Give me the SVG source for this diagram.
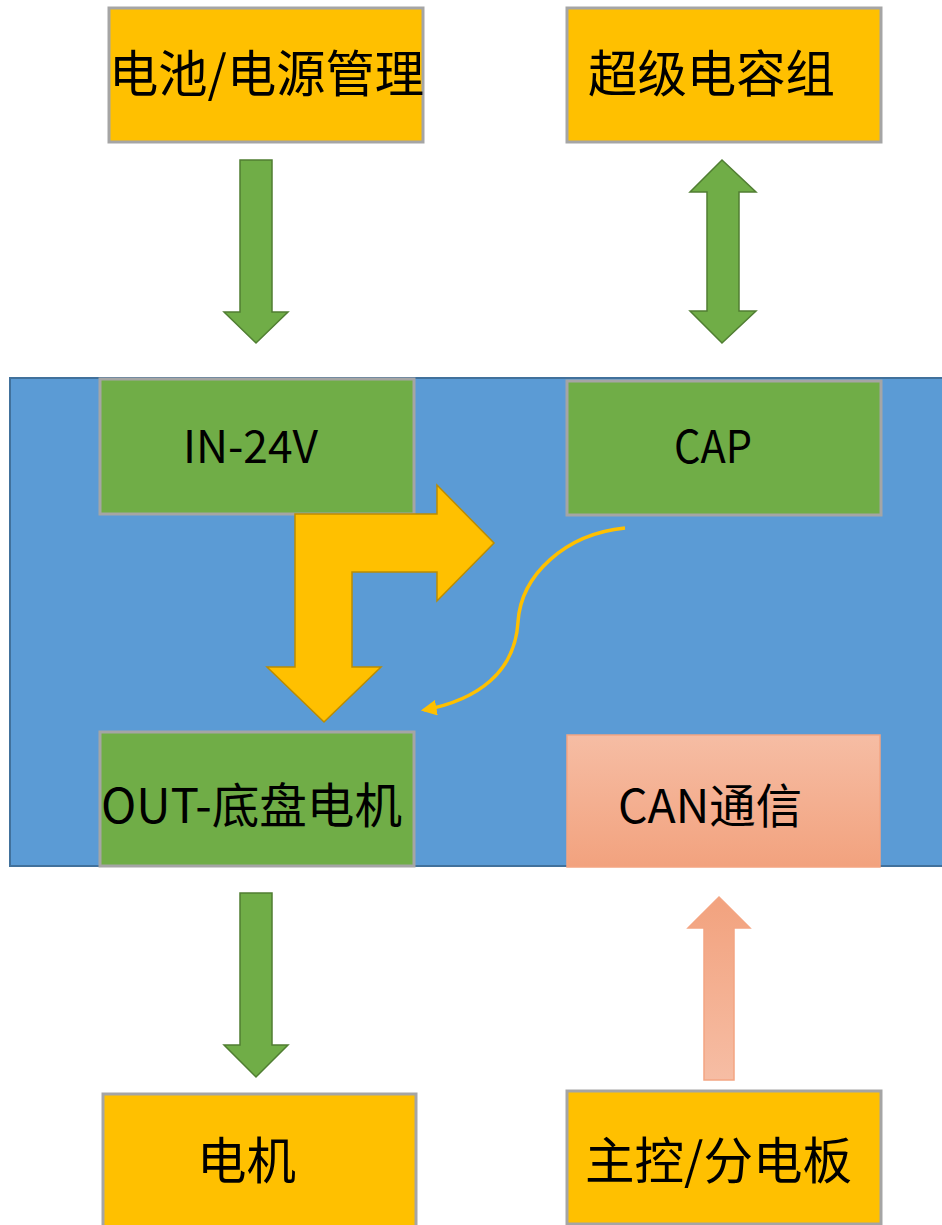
<svg xmlns="http://www.w3.org/2000/svg" width="942" height="1225" viewBox="0 0 942 1225">
<defs>
<linearGradient id="salmon" x1="0" y1="0" x2="0" y2="1">
<stop offset="0" stop-color="#F6BDA4"/>
<stop offset="1" stop-color="#F2A27E"/>
</linearGradient>
<linearGradient id="salmonUp" x1="0" y1="1" x2="0" y2="0">
<stop offset="0" stop-color="#F6BDA4"/>
<stop offset="1" stop-color="#F2A27E"/>
</linearGradient>
<marker id="curveHead" viewBox="0 0 10 10" refX="8" refY="5" markerWidth="4.5" markerHeight="4.5" orient="auto" markerUnits="strokeWidth">
<path d="M0,0 L10,5 L0,10 Z" fill="#FFC000"/>
</marker>
<style>
.t{font-family:"Noto Sans CJK SC","Noto Sans",sans-serif;fill:#000;}
.yel{fill:#FFC000;stroke:#A5A5A5;stroke-width:3;}
.grn{fill:#70AD47;stroke:#A5A5A5;stroke-width:3;}
.garr{fill:#70AD47;stroke:#507E32;stroke-width:1.5;}
.yarr{fill:#FFC000;stroke:#BC8C00;stroke-width:1.5;}
</style>
</defs>
<rect x="10" y="378" width="940" height="488" fill="#5B9BD5" stroke="#41719C" stroke-width="2"/>
<g id="battery">
<rect class="yel" x="109" y="8" width="314" height="134"/>
<text class="t" x="109" y="92" font-size="50" textLength="315" lengthAdjust="spacingAndGlyphs">电池/电源管理</text>
</g>
<g id="supercap">
<rect class="yel" x="567" y="8" width="314" height="134"/>
<text class="t" x="588" y="92" font-size="50" textLength="247" lengthAdjust="spacingAndGlyphs">超级电容组</text>
</g>
<g id="in24v">
<rect class="grn" x="100" y="379" width="314" height="135"/>
<text class="t" x="183" y="463" font-size="45" textLength="135" lengthAdjust="spacingAndGlyphs">IN-24V</text>
</g>
<g id="cap">
<rect class="grn" x="567" y="381" width="314" height="134"/>
<text class="t" x="674" y="463" font-size="45" textLength="78" lengthAdjust="spacingAndGlyphs">CAP</text>
</g>
<g id="out">
<rect class="grn" x="100" y="732" width="314" height="134"/>
<text class="t" x="101" y="823" font-size="48" textLength="301" lengthAdjust="spacingAndGlyphs">OUT-底盘电机</text>
</g>
<g id="can">
<rect x="567" y="735" width="313" height="132" fill="url(#salmon)" stroke="#F4A582" stroke-width="1.5"/>
<text class="t" x="618" y="823" font-size="47" textLength="184" lengthAdjust="spacingAndGlyphs">CAN通信</text>
</g>
<g id="motor">
<rect class="yel" x="103" y="1094" width="313" height="133"/>
<text class="t" x="197" y="1179" font-size="50" textLength="99" lengthAdjust="spacingAndGlyphs">电机</text>
</g>
<g id="mainboard">
<rect class="yel" x="567" y="1091" width="314" height="133"/>
<text class="t" x="585" y="1179" font-size="50" textLength="267" lengthAdjust="spacingAndGlyphs">主控/分电板</text>
</g>
<g id="connectors">
<polygon class="garr" points="240,160 272,160 272,312 288,312 256,343 224,312 240,312"/>
<polygon class="garr" points="722,160 756,192 739,192 739,311 756,311 722,343 690,311 707,311 707,192 690,192"/>
<polygon class="yarr" points="295,514 437,514 437,485 494,543 437,601 437,572 352,572 352,667 381,667 324,722 267,667 295,667"/>
<path d="M625,528 C565,534 521,575 518,622 C515,672 478,700 424,710" fill="none" stroke="#FFC000" stroke-width="3.5" marker-end="url(#curveHead)"/>
<polygon class="garr" points="240,893 272,893 272,1045 288,1045 256,1077 224,1045 240,1045"/>
<polygon points="719,897 750,928 734,928 734,1080 704,1080 704,928 688,928" fill="url(#salmonUp)" stroke="#F4A582" stroke-width="1.5"/>
</g>
</svg>
